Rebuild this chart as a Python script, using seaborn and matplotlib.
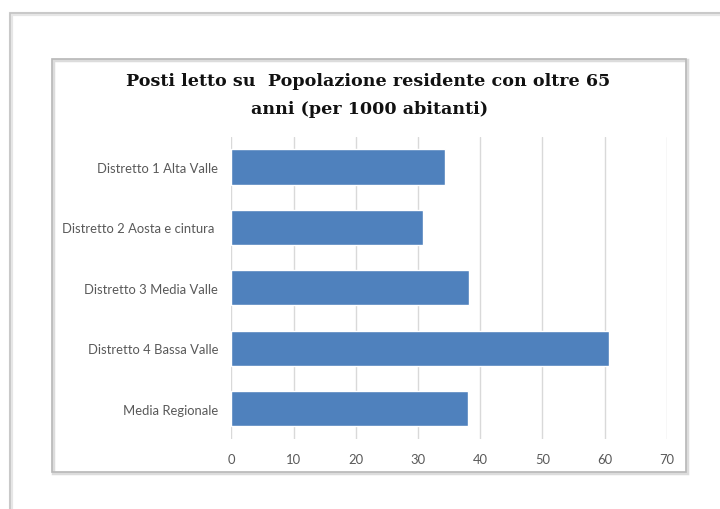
import matplotlib
matplotlib.use("Agg")
import matplotlib.pyplot as plt
from matplotlib.patches import Rectangle
import seaborn as sns
import pandas as pd

distretti = [
    "Distretto 1 Alta Valle",
    "Distretto 2 Aosta e cintura ",
    "Distretto 3 Media Valle",
    "Distretto 4 Bassa Valle",
    "Media Regionale",
]
posti_letto = [34.4, 30.8, 38.2, 60.7, 38.1]
x_ticks = [0, 10, 20, 30, 40, 50, 60, 70]

df = pd.DataFrame({"distretto": distretti, "valore": posti_letto})

sns.set_theme(style="white")
W, H = 720, 510
fig = plt.figure(figsize=(W / 100, H / 100), dpi=100)

# outer page frame and inner chart frame (pixel coordinates)
def px_rect(x0, y0, x1, y1, **kw):
    return Rectangle((x0 / W, 1 - y1 / H), (x1 - x0) / W, (y1 - y0) / H,
                     transform=fig.transFigure, fill=False, **kw)

fig.patches.append(px_rect(11, 15, 724, 514, edgecolor="#e6e6e6", lw=3))
fig.patches.append(px_rect(10, 14, 722, 512, edgecolor="#c4c4c4", lw=1.2))
fig.patches.append(px_rect(53, 61, 687, 474, edgecolor="#dcdcdc", lw=2.5))
fig.patches.append(px_rect(52, 60, 686, 473, edgecolor="#b8b8b8", lw=1.2))

ax = fig.add_axes([231.3 / W, 1 - 440 / H, (666.7 - 231.3) / W, 302.2 / H])
sns.barplot(data=df, y="distretto", x="valore", orient="h", color="#4F81BD",
            saturation=1, width=0.58, ax=ax)

ax.set_xlim(0, 70)
ax.set_xticks(x_ticks)
ax.set_xticklabels([str(t) for t in x_ticks])
ax.set_xlabel("")
ax.set_ylabel("")
ax.xaxis.grid(True, color="#d9d9d9", lw=1)
ax.set_axisbelow(True)
for s in ax.spines.values():
    s.set_visible(False)
ax.tick_params(axis="both", length=0, labelsize=9.4, colors="#595959")
ax.tick_params(axis="y", pad=9.5)
ax.tick_params(axis="x", pad=10)
for lab in ax.get_xticklabels() + ax.get_yticklabels():
    lab.set_fontfamily("Lato")

title_kw = dict(ha="center", va="center", fontsize=12.6, fontweight="bold",
                family="DejaVu Serif", color="#111111")
fig.text(368 / W, 1 - 81 / H, "Posti letto su  Popolazione residente con oltre 65",
         **title_kw)
fig.text(370 / W, 1 - 109 / H, "anni (per 1000 abitanti)", **title_kw)

fig.savefig("out.png", dpi=100, facecolor="white")
